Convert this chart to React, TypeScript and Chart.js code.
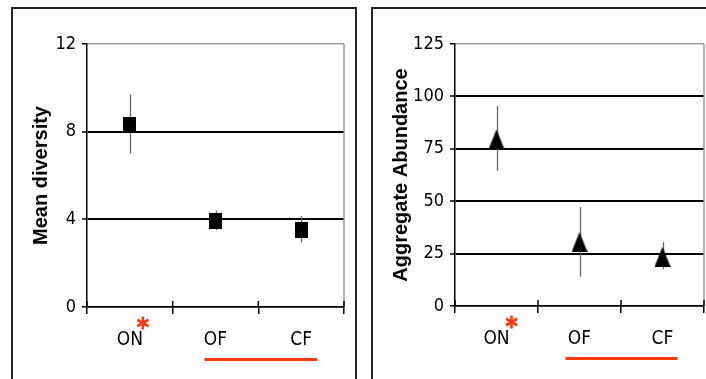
import React, { useEffect, useRef } from 'react';
import { Chart, registerables } from 'chart.js';

Chart.register(...registerables);

const categories = ['ON', 'OF', 'CF'];

const diversityMean = [8.32, 3.92, 3.5];
const diversityHigh = [9.7, 4.4, 4.15];
const diversityLow = [7.0, 3.5, 2.95];
const diversityTicks = [0, 4, 8, 12];

const abundanceMean = [79.5, 30.5, 23.5];
const abundanceHigh = [95.5, 47.2, 30.5];
const abundanceLow = [64.5, 14.0, 17.5];
const abundanceTicks = [0, 25, 50, 75, 100, 125];

const RED = '#ff3a10';
const NARROW = '"Liberation Sans Narrow", "Arial Narrow", "DejaVu Sans Condensed", sans-serif';
const SANS = '"Liberation Sans", Arial, Helvetica, sans-serif';

function makeSquare() {
  const c = document.createElement('canvas');
  c.width = 13;
  c.height = 16;
  const g = c.getContext('2d')!;
  g.fillStyle = '#000';
  g.fillRect(0, 0, 13, 16);
  return c;
}

function makeTriangle() {
  const c = document.createElement('canvas');
  c.width = 16;
  c.height = 20;
  const g = c.getContext('2d')!;
  g.fillStyle = '#000';
  g.beginPath();
  g.moveTo(8, 0);
  g.lineTo(16, 20);
  g.lineTo(0, 20);
  g.closePath();
  g.fill();
  return c;
}

type PanelOpts = {
  mean: number[];
  hi: number[];
  lo: number[];
  ticks: number[];
  title: string;
  marker: HTMLCanvasElement;
  padRight: number;
  yWidth: number;
  xHeight: number;
  starDx: number;
  lineFromDx: number;
  lineToDx: number;
};

function decorPlugin(o: PanelOpts) {
  return {
    id: 'decor',
    beforeDatasetsDraw(chart: any) {
      const { ctx, chartArea, scales } = chart;
      const x = scales.x;
      const y = scales.y;
      ctx.save();
      ctx.strokeStyle = '#9a9a9a';
      ctx.lineWidth = 1.5;
      ctx.beginPath();
      ctx.moveTo(chartArea.right, chartArea.top);
      ctx.lineTo(chartArea.right, chartArea.bottom);
      ctx.stroke();
      ctx.strokeStyle = '#666';
      ctx.lineWidth = 1.3;
      o.hi.forEach((h, i) => {
        const px = Math.round(x.getPixelForValue(i)) + 0.5;
        ctx.beginPath();
        ctx.moveTo(px, y.getPixelForValue(h));
        ctx.lineTo(px, y.getPixelForValue(o.lo[i]));
        ctx.stroke();
      });
      ctx.restore();
    },
    afterDraw(chart: any) {
      const { ctx, chartArea, scales } = chart;
      const x = scales.x;
      ctx.save();
      ctx.strokeStyle = '#000';
      ctx.lineWidth = 1.5;
      for (let i = 0; i <= categories.length; i++) {
        const px = x.getPixelForValue(i - 0.5);
        ctx.beginPath();
        ctx.moveTo(px, chartArea.bottom - 6);
        ctx.lineTo(px, chartArea.bottom);
        ctx.stroke();
      }
      // asterisk next to the first category label
      const sx = x.getPixelForValue(0) + o.starDx;
      const sy = chartArea.bottom + 16;
      ctx.strokeStyle = RED;
      ctx.lineWidth = 2.6;
      const r = 6.5;
      for (let k = 0; k < 3; k++) {
        const a = Math.PI / 2 + (k * Math.PI) / 3;
        ctx.beginPath();
        ctx.moveTo(sx + Math.cos(a) * r, sy + Math.sin(a) * r);
        ctx.lineTo(sx - Math.cos(a) * r, sy - Math.sin(a) * r);
        ctx.stroke();
      }
      // underline grouping OF and CF
      ctx.strokeStyle = RED;
      ctx.lineWidth = 3;
      const ly = chartArea.bottom + 52.5;
      ctx.beginPath();
      ctx.moveTo(x.getPixelForValue(1) + o.lineFromDx, ly);
      ctx.lineTo(x.getPixelForValue(2) + o.lineToDx, ly);
      ctx.stroke();
      ctx.restore();
    },
  };
}

function buildConfig(o: PanelOpts): any {
  const max = o.ticks[o.ticks.length - 1];
  return {
    type: 'line',
    data: {
      labels: categories,
      datasets: [
        {
          data: o.mean,
          showLine: false,
          pointStyle: o.marker,
          pointRadius: 8,
          pointHoverRadius: 8,
          backgroundColor: '#000',
          borderColor: '#000',
        },
      ],
    },
    options: {
      responsive: false,
      animation: false,
      events: [],
      layout: { autoPadding: false, padding: { top: 44, right: o.padRight, left: 0, bottom: 0 } },
      plugins: { legend: { display: false }, tooltip: { enabled: false } },
      scales: {
        x: {
          type: 'category',
          offset: true,
          afterFit: (s: any) => {
            s.height = o.xHeight;
            s.paddingLeft = 0;
            s.paddingRight = 0;
          },
          grid: {
            offset: true,
            drawOnChartArea: false,
            color: '#000',
            lineWidth: 1.5,
            tickLength: 7,
          },
          border: { color: '#000', width: 1.5 },
          ticks: {
            color: '#000',
            font: { family: NARROW, size: 19 },
            padding: 15,
            maxRotation: 0,
            autoSkip: false,
          },
        },
        y: {
          min: 0,
          max,
          afterFit: (s: any) => {
            s.width = o.yWidth;
            s.paddingTop = 0;
            s.paddingBottom = 0;
          },
          afterBuildTicks: (s: any) => {
            s.ticks = o.ticks.map((v) => ({ value: v }));
          },
          grid: {
            color: (c: any) => (c.tick && c.tick.value === max ? '#9a9a9a' : '#000'),
            lineWidth: (c: any) =>
              c.tick && c.tick.value === max ? 1.5 : c.tick && c.tick.value === 0 ? 1.5 : 2,
            tickColor: '#000',
            tickWidth: 1.5,
            tickLength: 5,
          },
          border: { color: '#000', width: 1.5 },
          ticks: {
            color: '#000',
            font: { family: NARROW, size: 18 },
            padding: 6,
          },
          title: {
            display: true,
            text: o.title,
            color: '#000',
            font: { family: SANS, size: 20, weight: 'bold' },
            padding: { top: 29, bottom: 0 },
          },
        },
      },
    },
    plugins: [decorPlugin(o)],
  };
}

export default function App() {
  const leftRef = useRef<HTMLCanvasElement>(null);
  const rightRef = useRef<HTMLCanvasElement>(null);

  useEffect(() => {
    const square = makeSquare();
    const triangle = makeTriangle();
    const left = new Chart(
      leftRef.current!,
      buildConfig({
        mean: diversityMean,
        hi: diversityHigh,
        lo: diversityLow,
        ticks: diversityTicks,
        title: 'Mean diversity',
        marker: square,
        padRight: 16,
        yWidth: 87,
        xHeight: 72,
        starDx: 13,
        lineFromDx: -11,
        lineToDx: 16,
      })
    );
    const right = new Chart(
      rightRef.current!,
      buildConfig({
        mean: abundanceMean,
        hi: abundanceHigh,
        lo: abundanceLow,
        ticks: abundanceTicks,
        title: 'Aggregate Abundance',
        marker: triangle,
        padRight: 2,
        yWidth: 95,
        xHeight: 73,
        starDx: 15,
        lineFromDx: -14,
        lineToDx: 15,
      })
    );
    return () => {
      left.destroy();
      right.destroy();
    };
  }, []);

  return (
    <div
      style={{
        position: 'fixed',
        left: 0,
        top: 0,
        width: 706,
        height: 379,
        overflow: 'hidden',
        background: '#fff',
      }}
    >
      <div
        style={{
          position: 'absolute',
          left: 11,
          top: 7,
          width: 346,
          height: 420,
          border: '2px solid #222',
          boxSizing: 'border-box',
        }}
      />
      <div
        style={{
          position: 'absolute',
          left: 371,
          top: 7,
          width: 420,
          height: 420,
          border: '2px solid #222',
          boxSizing: 'border-box',
        }}
      />
      <canvas
        ref={leftRef}
        width={360}
        height={379}
        style={{ position: 'absolute', left: 0, top: 0, width: 360, height: 379 }}
      />
      <canvas
        ref={rightRef}
        width={346}
        height={379}
        style={{ position: 'absolute', left: 360, top: 0, width: 346, height: 379 }}
      />
    </div>
  );
}
